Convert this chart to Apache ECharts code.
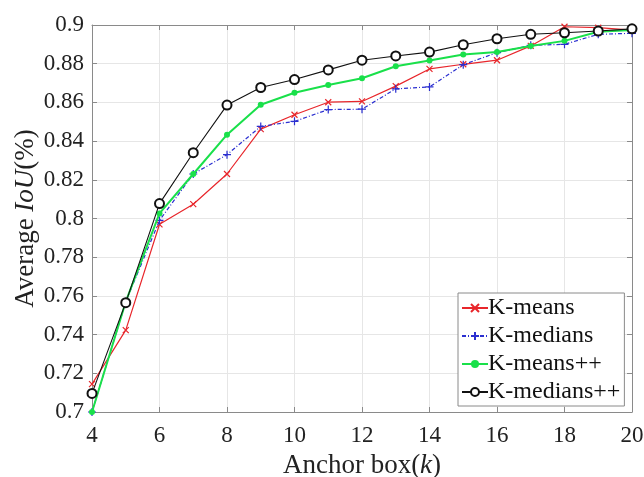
<!DOCTYPE html>
<html><head><meta charset="utf-8">
<script src="https://cdn.jsdelivr.net/npm/echarts@6/dist/echarts.min.js"></script>
<style>html,body{margin:0;padding:0;background:#fff}#c{width:644px;height:477px}</style>
</head><body><div id="c"></div>
<script>
var kValues = [4,5,6,7,8,9,10,11,12,13,14,15,16,17,18,19,20];
var kMeans = [0.7144,0.7423,0.797,0.8074,0.823,0.8462,0.8536,0.8601,0.8605,0.8684,0.8773,0.8797,0.8818,0.8892,0.8991,0.8986,0.8974];
var kMedians = [0.700,0.757,0.799,0.823,0.833,0.8476,0.8502,0.8563,0.8565,0.867,0.868,0.8795,0.8857,0.8895,0.890,0.8952,0.8957];
var kMeansPP = [0.700,0.757,0.8026,0.823,0.8433,0.8588,0.865,0.869,0.8725,0.8787,0.8816,0.8847,0.886,0.8892,0.8918,0.8965,0.8974];
var kMediansPP = [0.7096,0.7565,0.8077,0.834,0.8586,0.8677,0.8718,0.8768,0.8818,0.884,0.886,0.8898,0.8929,0.8952,0.896,0.8969,0.898];
var seriesNames = ['K-means','K-medians','K-means++','K-medians++'];

function pairs(arr){ return kValues.map(function(k,i){ return [k, arr[i]]; }); }
var font = 'Liberation Serif';
var xSym = 'path://M0,0L10,10M10,0L0,10';
var plusSym = 'path://M5,0L5,10M0,5L10,5';
var chart = echarts.init(document.getElementById('c'));
var axisLine = {show:true, lineStyle:{color:'#8a8a8a', width:1}};
var tick = {show:true, inside:true, length:5, lineStyle:{color:'#8a8a8a'}};
chart.setOption({
  backgroundColor:'#fff',
  animation:false,
  grid:{left:92, right:12, top:25, bottom:65, show:false, containLabel:false, outerBoundsMode:'none'},
  xAxis:[{
    type:'value', min:4, max:20, interval:2,
    axisLine:axisLine, axisTick:tick,
    axisLabel:{color:'#222', fontFamily:font, fontSize:23, margin:12},
    splitLine:{show:true, lineStyle:{color:'#e6e6e6', width:1}},
    name:'{a|Anchor box(}{b|k}{a|)}', nameLocation:'middle', nameGap:40, nameMoveOverlap:false,
    nameTextStyle:{rich:{a:{fontFamily:font, fontSize:27, color:'#222'}, b:{fontFamily:font, fontSize:27, fontStyle:'italic', color:'#222'}}}
  },{
    type:'value', position:'top', min:4, max:20, interval:2,
    axisLine:axisLine, axisTick:tick,
    axisLabel:{show:false}, splitLine:{show:false}
  }],
  yAxis:[{
    type:'value', min:0.7, max:0.9, interval:0.02,
    axisLine:axisLine, axisTick:tick,
    axisLabel:{color:'#222', fontFamily:font, fontSize:23, margin:8,
      formatter:function(v){ return String(parseFloat(v.toFixed(2))); }},
    splitLine:{show:true, lineStyle:{color:'#e6e6e6', width:1}},
    name:'{a|Average }{b|IoU}{a|(%)}', nameLocation:'middle', nameGap:53, nameRotate:90, nameMoveOverlap:false,
    nameTextStyle:{rich:{a:{fontFamily:font, fontSize:27, color:'#222'}, b:{fontFamily:font, fontSize:27, fontStyle:'italic', color:'#222'}}}
  },{
    type:'value', position:'right', min:0.7, max:0.9, interval:0.02,
    axisLine:axisLine, axisTick:tick,
    axisLabel:{show:false}, splitLine:{show:false}
  }],
  legend:{
    left:458, top:293, orient:'vertical', itemGap:4, itemWidth:26, itemHeight:10,
    backgroundColor:'#fff', borderColor:'#8a8a8a', borderWidth:1, padding:[3,4,2,3],
    textStyle:{fontFamily:font, fontSize:24, color:'#111', padding:[0,0,0,-5]},
    data:seriesNames
  },
  series:[
    {name:seriesNames[0], type:'line', data:pairs(kMeans), symbol:xSym, symbolSize:6,
     lineStyle:{color:'#e8262b', width:1.2}, itemStyle:{color:'rgba(0,0,0,0)', borderColor:'#e8262b', borderWidth:1.2}, z:2},
    {name:seriesNames[1], type:'line', data:pairs(kMedians), symbol:plusSym, symbolSize:8,
     lineStyle:{color:'#2b2fd0', width:1.2, type:[4,2,1,2]}, itemStyle:{color:'rgba(0,0,0,0)', borderColor:'#2b2fd0', borderWidth:1.2}, z:3},
    {name:seriesNames[2], type:'line', data:pairs(kMeansPP), symbol:'circle', symbolSize:6,
     lineStyle:{color:'#19e04a', width:2}, itemStyle:{color:'#19e04a', borderColor:'#19e04a', borderWidth:0}, z:4},
    {name:seriesNames[3], type:'line', data:pairs(kMediansPP), symbol:'emptyCircle', symbolSize:9,
     lineStyle:{color:'#111', width:1.1}, itemStyle:{color:'#111', borderColor:'#111', borderWidth:1}, z:5}
  ]
});
</script></body></html>
